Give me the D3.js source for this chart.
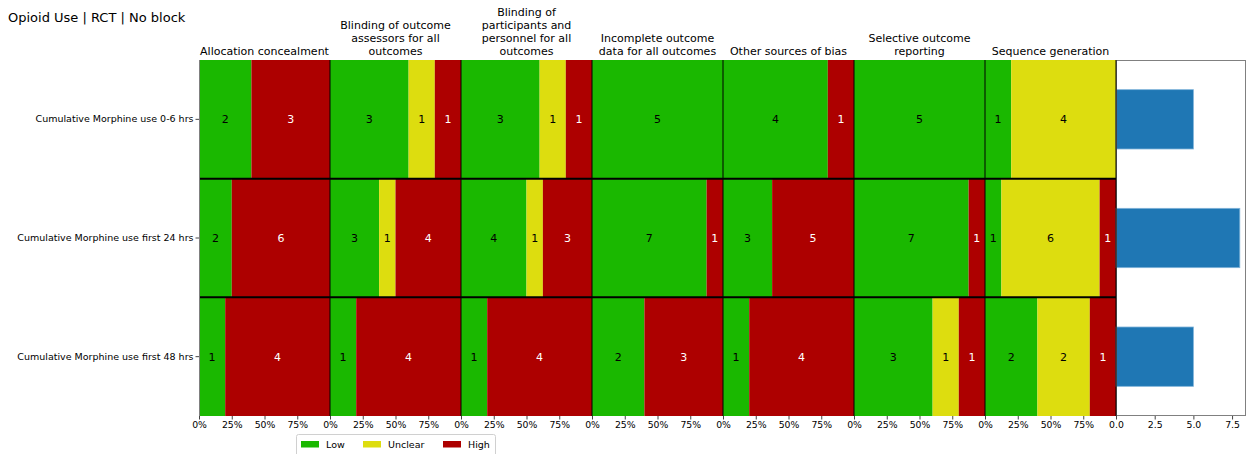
<!DOCTYPE html>
<html>
<head>
<meta charset="utf-8">
<script src="https://cdn.jsdelivr.net/npm/d3@7"></script>
<style>
  html, body { margin: 0; padding: 0; background: #fff; }
  svg { display: block; font-family: "DejaVu Sans", sans-serif; }
</style>
</head>
<body>
<svg id="chart" width="1251" height="454"></svg>
<script>
// Risk-of-bias summary: outcomes × domains, stacked as shares of studies
const chartTitle = "Opioid Use | RCT | No block";
const outcomes = [
  "Cumulative Morphine use 0-6 hrs",
  "Cumulative Morphine use first 24 hrs",
  "Cumulative Morphine use first 48 hrs"
];
const domains = [
  ["Allocation concealment"],
  ["Blinding of outcome", "assessors for all", "outcomes"],
  ["Blinding of", "participants and", "personnel for all", "outcomes"],
  ["Incomplete outcome", "data for all outcomes"],
  ["Other sources of bias"],
  ["Selective outcome", "reporting"],
  ["Sequence generation"]
];
const levels = ["Low", "Unclear", "High"];
const levelColors = ["#1ab800", "#dddd0f", "#ad0000"];
const labelColors = ["#000", "#000", "#fff"];

// study counts per outcome (rows) and domain (columns)
const lowCounts = [
  [2, 3, 3, 5, 4, 5, 1],
  [2, 3, 4, 7, 3, 7, 1],
  [1, 1, 1, 2, 1, 3, 2]
];
const unclearCounts = [
  [0, 1, 1, 0, 0, 0, 4],
  [0, 1, 1, 0, 0, 0, 6],
  [0, 0, 0, 0, 0, 1, 2]
];
const highCounts = [
  [3, 1, 1, 0, 1, 0, 0],
  [6, 4, 3, 1, 5, 1, 1],
  [4, 4, 4, 3, 4, 1, 1]
];
const studyCounts = [5, 8, 5];
const pctTicks = [0, 0.25, 0.5, 0.75];
const countTicks = [0, 2.5, 5, 7.5];

const svg = d3.select("#chart");
const plotLeft = 199, panelW = 131, plotTop = 60, plotBottom = 416;
const countLeft = plotLeft + domains.length * panelW, countRight = 1246;

svg.append("text")
  .attr("x", 8).attr("y", 22)
  .attr("font-size", 13).attr("fill", "#000")
  .text(chartTitle);

const y = d3.scaleBand().domain(outcomes).range([plotTop, plotBottom]).padding(0);

const stackGen = d3.stack().keys(levels);

domains.forEach((dom, di) => {
  const x0 = plotLeft + di * panelW;
  const x = d3.scaleLinear().domain([0, 1]).range([x0, x0 + panelW]);
  const rows = outcomes.map((o, ri) => {
    const vals = [lowCounts[ri][di], unclearCounts[ri][di], highCounts[ri][di]];
    const total = d3.sum(vals);
    const r = { outcome: o };
    levels.forEach((l, li) => { r[l] = vals[li] / total; r[l + "_n"] = vals[li]; });
    return r;
  });
  const series = stackGen(rows);
  const g = svg.append("g");
  series.forEach((s, li) => {
    g.selectAll(null).data(s).enter().append("rect")
      .attr("x", d => x(d[0]))
      .attr("width", d => x(d[1]) - x(d[0]))
      .attr("y", d => y(d.data.outcome))
      .attr("height", y.bandwidth())
      .attr("fill", levelColors[li]);
    g.selectAll(null).data(s.filter(d => d.data[levels[li] + "_n"] > 0)).enter().append("text")
      .attr("x", d => (x(d[0]) + x(d[1])) / 2)
      .attr("y", d => y(d.data.outcome) + y.bandwidth() / 2)
      .attr("dy", "0.35em")
      .attr("text-anchor", "middle")
      .attr("font-size", 11)
      .attr("fill", labelColors[li])
      .text(d => d.data[levels[li] + "_n"]);
  });
  // panel header
  const header = svg.append("text")
    .attr("text-anchor", "middle")
    .attr("font-size", 11)
    .attr("fill", "#000");
  dom.forEach((line, k) => {
    header.append("tspan")
      .attr("x", x0 + panelW / 2)
      .attr("y", 55 - (dom.length - 1 - k) * 13)
      .text(line);
  });
  // percentage axis
  const ax = svg.append("g")
    .attr("transform", `translate(0,${plotBottom})`)
    .call(d3.axisBottom(x).tickValues(pctTicks).tickFormat(d3.format(".0%")).tickSize(3.5).tickPadding(2));
  ax.select(".domain").remove();
  ax.selectAll(".tick line").attr("stroke", "#444");
  ax.selectAll(".tick text").attr("font-size", 9.3).attr("fill", "#000").attr("font-family", "DejaVu Sans, sans-serif");
});

// separators between outcome rows and domain panels
outcomes.slice(1).forEach(o => {
  svg.append("line")
    .attr("x1", plotLeft).attr("x2", countLeft)
    .attr("y1", y(o)).attr("y2", y(o))
    .attr("stroke", "#000").attr("stroke-width", 2);
});
domains.forEach((d, di) => {
  if (di === 0) return;
  svg.append("line")
    .attr("x1", plotLeft + di * panelW).attr("x2", plotLeft + di * panelW)
    .attr("y1", plotTop).attr("y2", plotBottom)
    .attr("stroke", "#000").attr("stroke-width", 1);
});
svg.append("line")
  .attr("x1", plotLeft + 0.5).attr("x2", plotLeft + 0.5)
  .attr("y1", plotTop).attr("y2", plotBottom)
  .attr("stroke", "#808080").attr("stroke-width", 1);

// outcome labels
const yAx = svg.append("g")
  .attr("transform", `translate(${plotLeft},0)`)
  .call(d3.axisLeft(y).tickSize(3.5).tickPadding(2));
yAx.select(".domain").remove();
yAx.selectAll(".tick line").attr("stroke", "#444");
yAx.selectAll(".tick text").attr("font-size", 9.5).attr("fill", "#000").attr("font-family", "DejaVu Sans, sans-serif");

// number of studies per outcome
const xc = d3.scaleLinear().domain([0, d3.max(studyCounts) * 1.05]).range([countLeft, countRight]);
const yc = d3.scaleBand().domain(outcomes).range([plotTop, plotBottom]).paddingInner(0.5).paddingOuter(0.25);
svg.append("rect")
  .attr("x", countLeft).attr("y", plotTop)
  .attr("width", countRight - countLeft).attr("height", plotBottom - plotTop)
  .attr("fill", "#fff");
svg.selectAll(".count-bar").data(studyCounts).enter().append("rect")
  .attr("class", "count-bar")
  .attr("x", xc(0))
  .attr("y", (d, i) => yc(outcomes[i]))
  .attr("width", d => xc(d) - xc(0))
  .attr("height", yc.bandwidth())
  .attr("fill", "#1f77b4")
  .attr("stroke", "#7fb3d9").attr("stroke-width", 0.8);
svg.append("rect")
  .attr("x", countLeft + 0.5).attr("y", plotTop + 0.5)
  .attr("width", countRight - countLeft - 1).attr("height", plotBottom - plotTop - 1)
  .attr("fill", "none").attr("stroke", "#808080").attr("stroke-width", 1);
svg.append("line")
  .attr("x1", countLeft).attr("x2", countLeft)
  .attr("y1", plotTop).attr("y2", plotBottom)
  .attr("stroke", "#000").attr("stroke-width", 1);
const cAx = svg.append("g")
  .attr("transform", `translate(0,${plotBottom})`)
  .call(d3.axisBottom(xc).tickValues(countTicks).tickFormat(d3.format(".1f")).tickSize(3.5).tickPadding(2));
cAx.select(".domain").remove();
cAx.selectAll(".tick line").attr("stroke", "#444");
cAx.selectAll(".tick text").attr("font-size", 9.3).attr("fill", "#000").attr("font-family", "DejaVu Sans, sans-serif");

// legend
const leg = svg.append("g").attr("transform", "translate(296,434)");
leg.append("rect")
  .attr("x", 0.5).attr("y", 0.5).attr("width", 199).attr("height", 22)
  .attr("rx", 2).attr("fill", "#fff").attr("stroke", "#d0d0d0");
const itemX = [5, 67, 147];
levels.forEach((l, i) => {
  leg.append("rect")
    .attr("x", itemX[i]).attr("y", 7).attr("width", 18).attr("height", 6.5)
    .attr("fill", levelColors[i]);
  leg.append("text")
    .attr("x", itemX[i] + 25).attr("y", 10.5).attr("dy", "0.35em")
    .attr("font-size", 9.5).attr("fill", "#000")
    .text(l);
});
</script>
</body>
</html>
